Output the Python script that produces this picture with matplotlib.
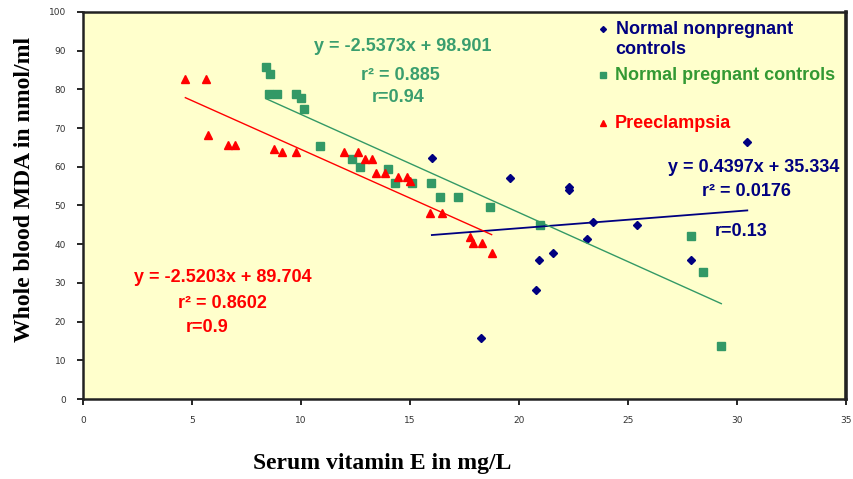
import matplotlib
matplotlib.use("Agg")
import matplotlib.pyplot as plt
import numpy as np

# data
nonpreg_x = [16.0, 19.57, 22.27, 22.27, 23.38, 25.4, 23.12, 21.55, 20.91, 20.79, 18.25, 30.46, 27.87]
nonpreg_y = [62.2, 57.0, 54.9, 54.0, 45.8, 45.0, 41.3, 37.6, 35.9, 28.2, 15.8, 66.5, 35.9]

preg_x = [8.39, 8.57, 8.54, 8.92, 9.76, 9.98, 10.14, 10.85, 12.33, 12.72, 13.99, 14.3,
          15.08, 15.97, 16.38, 17.18, 18.66, 20.95, 27.9, 28.43, 29.27]
preg_y = [85.9, 83.9, 78.7, 78.7, 78.7, 77.7, 74.9, 65.3, 62.0, 60.0, 59.4, 55.7,
          55.7, 55.7, 52.1, 52.1, 49.7, 45.0, 42.1, 32.9, 13.7]

pre_x = [4.7, 5.65, 5.75, 6.64, 6.97, 8.78, 9.15, 9.76, 11.96, 12.6, 12.92, 13.26,
         13.44, 13.87, 14.44, 14.86, 15.0, 15.92, 16.48, 17.75, 17.9, 18.28, 18.74]
pre_y = [82.8, 82.8, 68.3, 65.6, 65.6, 64.5, 63.9, 63.9, 63.7, 63.9, 61.9, 61.9,
         58.3, 58.3, 57.4, 57.4, 56.4, 48.0, 48.0, 41.8, 40.2, 40.2, 37.6]

# fitted trend lines (slope, intercept) as printed on the chart
fits = {
    "nonpreg": (0.4397, 35.334),
    "preg": (-2.5373, 98.901),
    "pre": (-2.5203, 89.704),
}

NAVY = "#000080"
GREEN = "#339966"
GREEN_TXT = "#3a9e6e"
RED = "#FF0000"

fig = plt.figure(figsize=(8.54, 4.79), dpi=100)
ax = fig.add_axes([0.097, 0.167, 0.894, 0.808])
ax.set_facecolor("#FFFFCC")

ax.plot(nonpreg_x, nonpreg_y, "D", color=NAVY, markersize=4, linestyle="none")
ax.plot(preg_x, preg_y, "s", color=GREEN, markersize=6, linestyle="none")
ax.plot(pre_x, pre_y, "^", color=RED, markersize=6, linestyle="none")

for xs, key, col, lw in [(nonpreg_x, "nonpreg", NAVY, 1.3),
                         (preg_x, "preg", GREEN, 1.0),
                         (pre_x, "pre", RED, 1.0)]:
    m, b = fits[key]
    xx = np.array([min(xs), max(xs)])
    ax.plot(xx, m * xx + b, color=col, linewidth=lw)

ax.set_xlim(0, 35)
ax.set_ylim(0, 100)
ax.set_xticks(range(0, 36, 5))
ax.set_yticks(range(0, 101, 10))
ax.tick_params(direction="out", length=4, width=1.2, labelsize=6.5,
               labelcolor="#333333", pad=8)
for s in ax.spines.values():
    s.set_linewidth(1.8)
    s.set_color("#222222")
ax.spines["right"].set_linewidth(2.6)

lab = dict(family="Liberation Serif", fontweight="bold", fontsize=17)
fig.text(0.447, 0.033, "Serum vitamin E in mg/L", ha="center", va="center", **lab)
fig.text(0.029, 0.605, "Whole blood MDA in nmol/ml", ha="center", va="center",
         rotation=90, **lab)

tk = dict(family="Liberation Sans", fontweight="bold", fontsize=13)

# green equation
ax.text(10.6, 91.0, "y = -2.5373x + 98.901", color=GREEN_TXT, ha="left", va="center", **tk)
ax.text(12.74, 83.7, "r² = 0.885", color=GREEN_TXT, ha="left", va="center", **tk)
ax.text(13.24, 77.8, "r=0.94", color=GREEN_TXT, ha="left", va="center", **tk)

# red equation
ax.text(2.33, 31.3, "y = -2.5203x + 89.704", color=RED, ha="left", va="center", **tk)
ax.text(4.34, 24.8, "r² = 0.8602", color=RED, ha="left", va="center", **tk)
ax.text(4.7, 18.6, "r=0.9", color=RED, ha="left", va="center", **tk)

# blue equation
ax.text(34.7, 59.9, "y = 0.4397x + 35.334", color=NAVY, ha="right", va="center", **tk)
ax.text(28.4, 53.5, "r² = 0.0176", color=NAVY, ha="left", va="center", **tk)
ax.text(28.95, 43.4, "r=0.13", color=NAVY, ha="left", va="center", **tk)

# legend-like labels
ax.plot([23.85], [95.6], "D", color=NAVY, markersize=3)
ax.text(24.45, 95.6, "Normal nonpregnant", color=NAVY, ha="left", va="center", **tk)
ax.text(24.4, 90.4, "controls", color=NAVY, ha="left", va="center", **tk)
ax.plot([23.85], [83.6], "s", color=GREEN, markersize=4)
ax.text(24.4, 83.6, "Normal pregnant controls", color="#339933", ha="left", va="center", **tk)
ax.plot([23.85], [71.3], "^", color=RED, markersize=4)
ax.text(24.4, 71.3, "Preeclampsia", color=RED, ha="left", va="center", **tk)

fig.savefig("out.png", dpi=100)
